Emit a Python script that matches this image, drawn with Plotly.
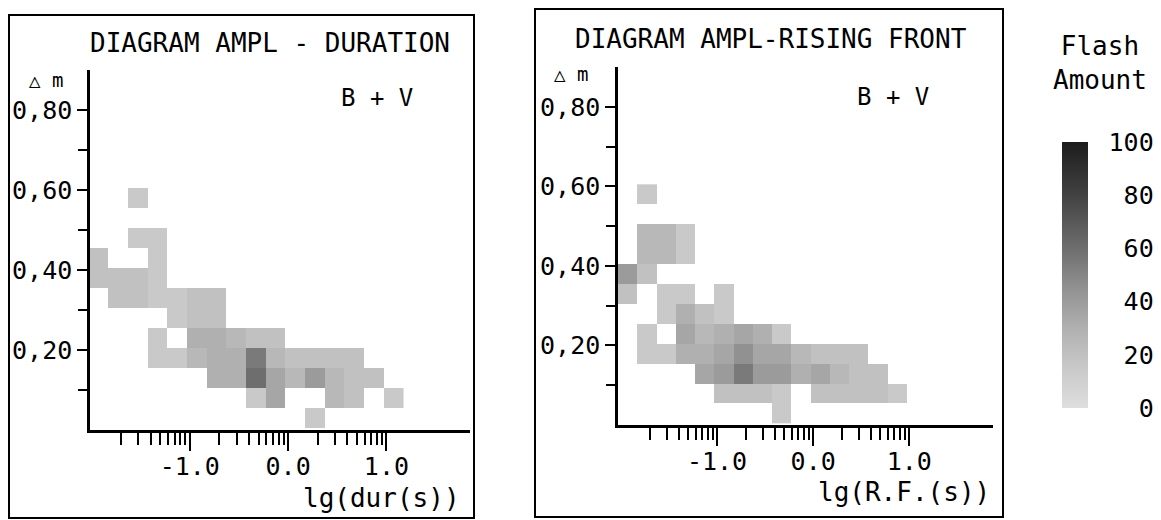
import numpy as np
import plotly.graph_objects as go

# ---------------- data ----------------
# lg(time) bin centres (0.2 wide) and amplitude bin centres (0.05 wide)
x_bins = [-1.93, -1.73, -1.53, -1.33, -1.13, -0.93, -0.73, -0.53, -0.33, -0.13,
          0.07, 0.27, 0.47, 0.67, 0.87, 1.07]
y_bins = [0.03, 0.08, 0.13, 0.18, 0.23, 0.28, 0.33, 0.38, 0.43, 0.48, 0.53, 0.58]

_ = None
# flash amount per cell, rows = y_bins (bottom -> top), cols = x_bins
z_duration = [
    [_, _, _, _, _, _, _, _, _, _, _, 15, _, _, _, _],
    [_, _, _, _, _, _, _, _, 15, 35, _, _, 25, 20, _, 15],
    [_, _, _, _, _, _, 30, 30, 60, 35, 25, 40, 25, 20, 20, _],
    [_, _, _, 15, 15, 25, 30, 30, 55, 25, 20, 20, 20, 20, _, _],
    [_, _, _, 15, _, 30, 30, 25, 20, 20, _, _, _, _, _, _],
    [_, _, _, _, 15, 20, 20, _, _, _, _, _, _, _, _, _],
    [_, 20, 20, 15, 15, 20, 20, _, _, _, _, _, _, _, _, _],
    [20, 20, 20, 15, _, _, _, _, _, _, _, _, _, _, _, _],
    [20, _, _, 15, _, _, _, _, _, _, _, _, _, _, _, _],
    [_, _, 15, 15, _, _, _, _, _, _, _, _, _, _, _, _],
    [_, _, _, _, _, _, _, _, _, _, _, _, _, _, _, _],
    [_, _, 15, _, _, _, _, _, _, _, _, _, _, _, _, _],
]
z_rising = [
    [_, _, _, _, _, _, _, _, 15, _, _, _, _, _, _, _],
    [_, _, _, _, _, 20, 20, 20, 15, _, 20, 20, 20, 20, 15, _],
    [_, _, _, _, 35, 40, 55, 40, 40, 30, 35, 25, 20, 20, _, _],
    [_, 15, 15, 30, 30, 35, 45, 35, 35, 25, 20, 20, 20, _, _, _],
    [_, 15, _, 35, 25, 30, 35, 30, 15, _, _, _, _, _, _, _],
    [_, _, 15, 30, 20, 15, _, _, _, _, _, _, _, _, _, _],
    [20, _, 15, 15, _, 15, _, _, _, _, _, _, _, _, _, _],
    [40, 20, _, _, _, _, _, _, _, _, _, _, _, _, _, _],
    [_, 25, 25, 15, _, _, _, _, _, _, _, _, _, _, _, _],
    [_, 25, 25, 15, _, _, _, _, _, _, _, _, _, _, _, _],
    [_, _, _, _, _, _, _, _, _, _, _, _, _, _, _, _],
    [_, 15, _, _, _, _, _, _, _, _, _, _, _, _, _, _],
]

x_tick_vals = [-1.0, 0.0, 1.0]
x_tick_text = ["-1.0", "0.0", "1.0"]
x_minor_mult = [2, 3, 4, 5, 6, 7, 8, 9]
x_minor_decades = [-2, -1, 0]
y_tick_vals = [0.2, 0.4, 0.6, 0.8]
y_tick_text = ["0,20", "0,40", "0,60", "0,80"]
y_minor_vals = [0.1, 0.3, 0.5, 0.7]
cbar_vals = [0, 20, 40, 60, 80, 100]
cbar_text = ["\u00a0\u00a0\u00a00", "\u00a0\u00a020", "\u00a0\u00a040",
             "\u00a0\u00a060", "\u00a0\u00a080", "\u00a0100"]

titles = ["DIAGRAM AMPL - DURATION", "DIAGRAM AMPL-RISING FRONT"]
x_titles = ["lg(dur(s))", "lg(R.F.(s))"]

# ---------------- figure ----------------
# the page body keeps an 8 px margin, so the figure is drawn 8 px smaller
OFF = 8
W, H = 1161 - OFF, 520 - OFF
FONT = "DejaVu Sans Mono"
minor_vals = [d + np.log10(m) for d in x_minor_decades for m in x_minor_mult]


def px(x):
    return (x - OFF) / W


def py(y):
    return 1 - (y - OFF) / H


fig = go.Figure()
fig.add_trace(go.Heatmap(x=x_bins, y=y_bins, z=z_duration, coloraxis="coloraxis",
                         xaxis="x", yaxis="y", hoverongaps=False))
fig.add_trace(go.Heatmap(x=x_bins, y=y_bins, z=z_rising, coloraxis="coloraxis",
                         xaxis="x2", yaxis="y2", hoverongaps=False))

axis_common = dict(showline=True, linecolor="black", linewidth=2.5, showgrid=False,
                   zeroline=False, ticks="outside", tickcolor="black", tickwidth=2,
                   tickfont=dict(family=FONT, size=25, color="black"))

xcommon = dict(axis_common, tickmode="array", tickvals=x_tick_vals, ticktext=x_tick_text,
               ticklen=18, ticklabelstandoff=-6,
               minor=dict(tickmode="array", tickvals=minor_vals, ticks="outside",
                          ticklen=12, tickwidth=2, tickcolor="black", showgrid=False))
ycommon = dict(axis_common, tickmode="array", tickvals=y_tick_vals, ticktext=y_tick_text,
               ticklen=10, range=[0, 0.9],
               minor=dict(tickmode="array", tickvals=y_minor_vals, ticks="outside",
                          ticklen=9, tickwidth=2, tickcolor="black", showgrid=False))

fig.update_layout(
    width=W, height=H, margin=dict(l=0, r=0, t=0, b=0),
    paper_bgcolor="white", plot_bgcolor="white",
    font=dict(family=FONT, color="black"),
    showlegend=False,
    xaxis=dict(xcommon, domain=[px(90), px(470)], range=[-2.015, 1.85], anchor="y"),
    yaxis=dict(ycommon, domain=[py(430), py(70)], anchor="x"),
    xaxis2=dict(xcommon, domain=[px(618), px(993)], range=[-2.03, 1.87], anchor="y2"),
    yaxis2=dict(ycommon, domain=[py(425), py(67)], anchor="x2"),
    coloraxis=dict(
        cmin=0, cmax=100,
        colorscale=[[0.0, "#dedede"], [0.15, "#c9c9c9"], [0.3, "#b0b0b0"],
                    [0.45, "#919191"], [0.6, "#6e6e6e"], [0.8, "#424242"],
                    [1.0, "#1c1c1c"]],
        colorbar=dict(x=px(1062), xanchor="left", xpad=0, thickness=26,
                      lenmode="fraction", len=266 / H, y=py(275), yanchor="middle",
                      ypad=0, outlinewidth=0,
                      tickmode="array", tickvals=cbar_vals, ticktext=cbar_text,
                      ticks="",
                      tickfont=dict(family=FONT, size=25, color="black")),
    ),
)

# frames round each diagram
fig.add_shape(type="rect", xref="paper", yref="paper", x0=px(9), x1=px(474),
              y0=py(518), y1=py(15), line=dict(color="black", width=2))
fig.add_shape(type="rect", xref="paper", yref="paper", x0=px(535), x1=px(1003),
              y0=py(517), y1=py(9), line=dict(color="black", width=2))

ann = []
ann.append(dict(text=titles[0], x=px(270), y=py(43)))
ann.append(dict(text=titles[1], x=px(771), y=py(39)))
ann.append(dict(text="\u25b3 m", x=px(46), y=py(80), size=19))
ann.append(dict(text="\u25b3 m", x=px(571), y=py(74), size=19))
ann.append(dict(text="B + V", x=px(377), y=py(98), size=24))
ann.append(dict(text="B + V", x=px(893), y=py(97), size=24))
ann.append(dict(text=x_titles[0], x=px(462), y=py(498), xanchor="right"))
ann.append(dict(text=x_titles[1], x=px(992), y=py(492), xanchor="right"))
ann.append(dict(text="Flash<br>Amount", x=px(1100), y=py(63)))
for a in ann:
    fig.add_annotation(text=a["text"], x=a["x"], y=a["y"], xref="paper", yref="paper",
                       xanchor=a.get("xanchor", "center"), yanchor="middle",
                       showarrow=False,
                       font=dict(family=FONT, size=a.get("size", 26), color="black"))

fig.write_html("out.html")
